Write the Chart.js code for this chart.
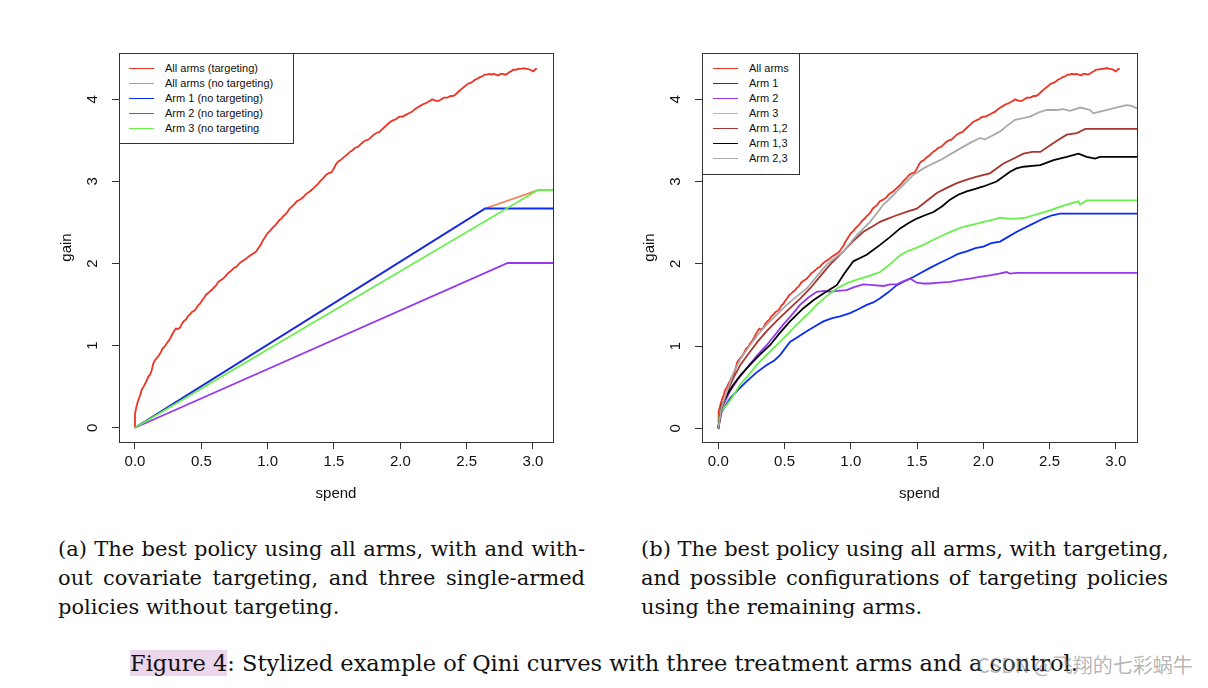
<!DOCTYPE html>
<html>
<head>
<meta charset="utf-8">
<script src="https://cdn.jsdelivr.net/npm/chart.js@4/dist/chart.umd.min.js"></script>
<style>
  body { margin: 0; background: #fff; }
  #page { position: relative; width: 1208px; height: 688px; overflow: hidden; background: #fff; }
  .box { position: absolute; }
  .legend { position: absolute; border: 1px solid #333; background: #fff; font-family: "Liberation Sans", Arial, sans-serif; font-size: 11px; color: #111; box-sizing: border-box; }
  .legend .row { position: absolute; height: 15px; line-height: 15px; white-space: nowrap; }
  .legend .sw { position: absolute; height: 0; border-top: 1.6px solid; top: 7px; }
  .cap { position: absolute; font-family: "DejaVu Serif", serif; font-size: 21px; color: #111; }
  .cap div { height: 29px; line-height: 29px; text-align: justify; text-align-last: justify; white-space: nowrap; }
  .cap div.last { text-align-last: left; }
  #figcap { position: absolute; left: 0; width: 1208px; top: 648px; text-align: center; font-family: "DejaVu Serif", serif; font-size: 22.5px; color: #111; line-height: 30px; }
  #figcap span { background: #ecd6ec; }
  #mark { position: absolute; left: 977px; top: 650px; font-family: "Noto Sans CJK SC", sans-serif; font-size: 20px; color: rgba(120,120,120,0.55); }
</style>
</head>
<body>
<div id="page">
  <div class="box" style="left:40px; top:29px; width:520px; height:491px;"><canvas id="chartA"></canvas></div>
  <div class="box" style="left:623px; top:29px; width:521px; height:491px;"><canvas id="chartB"></canvas></div>
  <div id="legendA" class="legend" style="left:119px; top:53px; width:175px; height:91px;"></div>
  <div id="legendB" class="legend" style="left:702px; top:53px; width:98px; height:122px;"></div>

  <div class="cap" style="left:58px; top:535px; width:527px;">
    <div>(a) The best policy using all arms, with and with-</div>
    <div>out covariate targeting, and three single-armed</div>
    <div class="last">policies without targeting.</div>
  </div>
  <div class="cap" style="left:641px; top:535px; width:527px;">
    <div>(b) The best policy using all arms, with targeting,</div>
    <div>and possible configurations of targeting policies</div>
    <div class="last">using the remaining arms.</div>
  </div>
  <div id="figcap"><span>Figure 4</span>: Stylized example of Qini curves with three treatment arms and a control.</div>
  <div id="mark">CSDN @飞翔的七彩蜗牛</div>
</div>

<script>
// axis ticks
const spendTicks = [0, 0.5, 1, 1.5, 2, 2.5, 3];
const gainTicks = [0, 1, 2, 3, 4];

// [spend, gain]
// best policy, all arms, with targeting (same curve in both panels)
const allArms = [
  [0, 0], [0, 0.17], [0.005, 0.21], [0.01, 0.25], [0.02, 0.31], [0.03, 0.36], [0.04, 0.40], [0.05, 0.46], [0.065, 0.50], [0.08, 0.55],
  [0.09, 0.58], [0.10, 0.62], [0.115, 0.65], [0.126, 0.70], [0.135, 0.76], [0.14, 0.79], [0.15, 0.82], [0.165, 0.85], [0.18, 0.88], [0.195, 0.92],
  [0.21, 0.97], [0.225, 0.99], [0.24, 1.03], [0.255, 1.06], [0.27, 1.10], [0.285, 1.15], [0.30, 1.19], [0.31, 1.21], [0.32, 1.20], [0.34, 1.22],
  [0.355, 1.27], [0.37, 1.30], [0.385, 1.32], [0.40, 1.36], [0.415, 1.38], [0.43, 1.41], [0.45, 1.43], [0.465, 1.46], [0.48, 1.50], [0.49, 1.51],
  [0.505, 1.55], [0.52, 1.58], [0.535, 1.62], [0.553, 1.64], [0.565, 1.66], [0.58, 1.68], [0.595, 1.71], [0.61, 1.73], [0.625, 1.77], [0.64, 1.79],
  [0.66, 1.81], [0.68, 1.84], [0.70, 1.88], [0.716, 1.90], [0.73, 1.92], [0.75, 1.95], [0.765, 1.96], [0.78, 1.99], [0.80, 2.02], [0.82, 2.04],
  [0.84, 2.06], [0.86, 2.09], [0.88, 2.11], [0.90, 2.13], [0.915, 2.15], [0.93, 2.19], [0.945, 2.22], [0.96, 2.27], [0.98, 2.32], [1.00, 2.37],
  [1.02, 2.40], [1.04, 2.44], [1.06, 2.47], [1.09, 2.53], [1.105, 2.55], [1.12, 2.58], [1.135, 2.60], [1.15, 2.63], [1.165, 2.67], [1.18, 2.69],
  [1.20, 2.72], [1.22, 2.76], [1.245, 2.78], [1.27, 2.81], [1.285, 2.84], [1.30, 2.86], [1.32, 2.88], [1.34, 2.91], [1.36, 2.94], [1.38, 2.97],
  [1.40, 3.01], [1.42, 3.04], [1.44, 3.08], [1.46, 3.10], [1.48, 3.11], [1.50, 3.16], [1.515, 3.21], [1.53, 3.24], [1.55, 3.26], [1.57, 3.29],
  [1.595, 3.32], [1.62, 3.36], [1.64, 3.38], [1.66, 3.41], [1.68, 3.42], [1.70, 3.45], [1.72, 3.48], [1.74, 3.50], [1.76, 3.51], [1.78, 3.54],
  [1.80, 3.57], [1.82, 3.59], [1.84, 3.60], [1.86, 3.63], [1.88, 3.66], [1.90, 3.69], [1.92, 3.72], [1.94, 3.74], [1.955, 3.75], [1.97, 3.76],
  [1.985, 3.78], [2.00, 3.79], [2.02, 3.79], [2.04, 3.81], [2.065, 3.83], [2.09, 3.85], [2.11, 3.88], [2.13, 3.90], [2.15, 3.92], [2.17, 3.94],
  [2.19, 3.95], [2.21, 3.97], [2.225, 3.98], [2.24, 4.00], [2.255, 3.99], [2.27, 3.98], [2.29, 3.98], [2.31, 4.00], [2.33, 4.02], [2.355, 4.02],
  [2.38, 4.04], [2.395, 4.04], [2.41, 4.05], [2.43, 4.08], [2.45, 4.11], [2.465, 4.13], [2.48, 4.15], [2.495, 4.17], [2.51, 4.19], [2.53, 4.20],
  [2.55, 4.22], [2.565, 4.24], [2.58, 4.25], [2.60, 4.27], [2.62, 4.28], [2.635, 4.30], [2.65, 4.30], [2.67, 4.31], [2.69, 4.30], [2.70, 4.31],
  [2.72, 4.30], [2.74, 4.29], [2.755, 4.31], [2.77, 4.31], [2.79, 4.30], [2.805, 4.31], [2.82, 4.33], [2.835, 4.34], [2.85, 4.36], [2.87, 4.36],
  [2.89, 4.37], [2.91, 4.37], [2.93, 4.38], [2.95, 4.37], [2.96, 4.37], [2.98, 4.36], [2.99, 4.35], [3.00, 4.34], [3.015, 4.36], [3.02, 4.37],
  [3.03, 4.37]
];

// panel (a): policies without targeting
const allArmsFlat = [[0, 0], [2.64, 2.67], [3.037, 2.895], [3.3, 2.895]];
const arm1Flat = [[0, 0], [2.64, 2.67], [3.3, 2.67]];
const arm2Flat = [[0, 0], [2.81, 2.006], [3.3, 2.006]];
const arm3Flat = [[0, 0], [3.037, 2.895], [3.3, 2.895]];

// panel (b): targeting with subsets of arms
const arm1 = [[0, 0], [0.025, 0.20], [0.088, 0.36], [0.15, 0.47], [0.214, 0.57], [0.29, 0.68], [0.365, 0.77], [0.42, 0.82], [0.466, 0.89], [0.541, 1.05],
  [0.60, 1.11], [0.667, 1.18], [0.73, 1.24], [0.793, 1.30], [0.86, 1.34], [0.919, 1.36], [0.994, 1.40], [1.06, 1.45], [1.12, 1.50], [1.17, 1.53],
  [1.221, 1.58], [1.28, 1.65], [1.347, 1.74], [1.41, 1.79], [1.472, 1.84], [1.53, 1.89], [1.598, 1.95], [1.67, 2.01], [1.749, 2.07], [1.81, 2.12],
  [1.875, 2.15], [1.94, 2.19], [2.00, 2.21], [2.06, 2.25], [2.127, 2.27], [2.19, 2.33], [2.253, 2.39], [2.353, 2.47], [2.454, 2.55], [2.52, 2.59],
  [2.58, 2.61], [3.3, 2.61]];
const arm2 = [[0, 0], [0.025, 0.24], [0.088, 0.45], [0.15, 0.60], [0.214, 0.73], [0.29, 0.88], [0.365, 1.01], [0.43, 1.14], [0.49, 1.26], [0.55, 1.37],
  [0.617, 1.50], [0.68, 1.59], [0.743, 1.66], [0.80, 1.67], [0.843, 1.66], [0.90, 1.67], [0.969, 1.68], [1.03, 1.72], [1.095, 1.75], [1.17, 1.74],
  [1.246, 1.73], [1.30, 1.75], [1.347, 1.75], [1.40, 1.79], [1.447, 1.82], [1.498, 1.77], [1.55, 1.76], [1.598, 1.76], [1.67, 1.77], [1.749, 1.78],
  [1.82, 1.80], [1.90, 1.82], [1.97, 1.84], [2.05, 1.86], [2.12, 1.88], [2.177, 1.90], [2.20, 1.88], [2.253, 1.89], [3.3, 1.89]];
const arm3 = [[0, 0], [0.013, 0.20], [0.063, 0.28], [0.11, 0.39], [0.164, 0.53], [0.23, 0.65], [0.29, 0.77], [0.37, 0.90], [0.44, 1.01], [0.52, 1.14],
  [0.592, 1.26], [0.67, 1.38], [0.743, 1.50], [0.82, 1.61], [0.894, 1.70], [0.98, 1.77], [1.07, 1.82], [1.15, 1.86], [1.221, 1.90], [1.27, 1.96],
  [1.321, 2.03], [1.37, 2.10], [1.422, 2.15], [1.49, 2.19], [1.548, 2.23], [1.62, 2.29], [1.699, 2.35], [1.77, 2.40], [1.85, 2.45], [1.93, 2.48],
  [2.00, 2.51], [2.06, 2.53], [2.127, 2.56], [2.19, 2.55], [2.253, 2.55], [2.32, 2.56], [2.38, 2.59], [2.44, 2.62], [2.505, 2.65], [2.57, 2.69],
  [2.63, 2.72], [2.718, 2.76], [2.73, 2.72], [2.78, 2.77], [3.3, 2.77]];
const arm12 = [[0, 0], [0.025, 0.24], [0.07, 0.45], [0.113, 0.61], [0.17, 0.78], [0.239, 0.93], [0.30, 1.06], [0.365, 1.18], [0.45, 1.32], [0.541, 1.46],
  [0.62, 1.58], [0.692, 1.70], [0.77, 1.85], [0.843, 1.99], [0.944, 2.15], [1.02, 2.28], [1.095, 2.39], [1.16, 2.45], [1.221, 2.51], [1.28, 2.55],
  [1.347, 2.59], [1.42, 2.63], [1.498, 2.67], [1.57, 2.76], [1.649, 2.86], [1.72, 2.92], [1.80, 2.98], [1.87, 3.02], [1.951, 3.06], [2.05, 3.10],
  [2.152, 3.22], [2.23, 3.28], [2.303, 3.34], [2.37, 3.36], [2.43, 3.36], [2.505, 3.44], [2.57, 3.51], [2.63, 3.57], [2.706, 3.59], [2.77, 3.64],
  [3.3, 3.64]];
const arm13 = [[0, 0], [0.025, 0.28], [0.07, 0.42], [0.113, 0.53], [0.17, 0.65], [0.239, 0.77], [0.31, 0.89], [0.39, 1.01], [0.46, 1.15], [0.541, 1.30],
  [0.642, 1.46], [0.72, 1.56], [0.793, 1.64], [0.894, 1.74], [0.95, 1.88], [1.019, 2.03], [1.07, 2.07], [1.12, 2.11], [1.221, 2.23], [1.30, 2.33],
  [1.372, 2.43], [1.44, 2.50], [1.498, 2.55], [1.56, 2.59], [1.624, 2.63], [1.69, 2.70], [1.749, 2.78], [1.81, 2.84], [1.875, 2.88], [1.94, 2.91],
  [2.00, 2.94], [2.10, 3.00], [2.202, 3.12], [2.25, 3.16], [2.303, 3.18], [2.37, 3.19], [2.43, 3.20], [2.53, 3.26], [2.63, 3.30], [2.718, 3.34],
  [2.78, 3.30], [2.844, 3.28], [2.88, 3.30], [3.3, 3.30]];
const arm23 = [[0, 0], [0.025, 0.26], [0.07, 0.47], [0.113, 0.67], [0.17, 0.85], [0.239, 1.01], [0.30, 1.14], [0.365, 1.26], [0.44, 1.38], [0.516, 1.50],
  [0.59, 1.60], [0.667, 1.70], [0.74, 1.84], [0.818, 1.99], [0.88, 2.07], [0.944, 2.15], [1.045, 2.35], [1.145, 2.51], [1.20, 2.62], [1.246, 2.72],
  [1.30, 2.80], [1.347, 2.88], [1.41, 2.98], [1.472, 3.08], [1.548, 3.16], [1.61, 3.21], [1.674, 3.26], [1.75, 3.33], [1.825, 3.40], [1.90, 3.47],
  [1.976, 3.53], [2.01, 3.51], [2.07, 3.56], [2.127, 3.61], [2.18, 3.68], [2.24, 3.75], [2.30, 3.77], [2.353, 3.79], [2.42, 3.84], [2.479, 3.87],
  [2.555, 3.87], [2.60, 3.88], [2.655, 3.86], [2.731, 3.90], [2.806, 3.87], [2.83, 3.83], [2.88, 3.85], [2.96, 3.88], [3.03, 3.91], [3.08, 3.93],
  [3.12, 3.92], [3.16, 3.89]];

const seriesA = [
  { label: "All arms (targeting)", pts: allArms, color: "#ec3324" },
  { label: "All arms (no targeting)", pts: allArmsFlat, color: "#f0845a" },
  { label: "Arm 1 (no targeting)", pts: arm1Flat, color: "#0b2cf2" },
  { label: "Arm 2 (no targeting)", pts: arm2Flat, color: "#9538ee" },
  { label: "Arm 3 (no targeting", pts: arm3Flat, color: "#67ef4a" }
];
const seriesB = [
  { label: "All arms", pts: allArms, color: "#ec3324" },
  { label: "Arm 1", pts: arm1, color: "#0b2cf2" },
  { label: "Arm 2", pts: arm2, color: "#9538ee" },
  { label: "Arm 3", pts: arm3, color: "#67ef4a" },
  { label: "Arm 1,2", pts: arm12, color: "#a8352f" },
  { label: "Arm 1,3", pts: arm13, color: "#000000" },
  { label: "Arm 2,3", pts: arm23, color: "#a9a9a9" }
];

const sans = "'Liberation Sans', Arial, Helvetica, sans-serif";

// R style box round the plot region
const frame = {
    id: "frame",
    afterDatasetsDraw(chart) {
        const a = chart.chartArea, c = chart.ctx;
        c.save();
        c.strokeStyle = "#333";
        c.lineWidth = 1;
        c.strokeRect(Math.round(a.left) + 0.5, Math.round(a.top) + 0.5, Math.round(a.right - a.left), Math.round(a.bottom - a.top));
        c.restore();
    }
};

function buildLegend(id, series, lineLeft, lineRight, textLeft) {
    const el = document.getElementById(id);
    series.forEach(function (s, i) {
        const row = document.createElement("div");
        row.className = "row";
        row.style.top = (7 + i * 15) + "px";
        row.style.left = "0px";
        row.style.width = "100%";
        const sw = document.createElement("span");
        sw.className = "sw";
        sw.style.left = lineLeft + "px";
        sw.style.width = (lineRight - lineLeft) + "px";
        sw.style.borderColor = s.color;
        const tx = document.createElement("span");
        tx.style.position = "absolute";
        tx.style.left = textLeft + "px";
        tx.textContent = s.label;
        row.appendChild(sw);
        row.appendChild(tx);
        el.appendChild(row);
    });
}

function makeChart(id, series, xMin, xMax, yMin, yMax) {
    const n = series.length;
    new Chart(document.getElementById(id).getContext("2d"), {
        type: "line",
        data: {
            datasets: series.map(function (s, i) {
                return {
                    label: s.label,
                    data: s.pts.map(function (p) { return { x: p[0], y: p[1] }; }),
                    borderColor: s.color,
                    backgroundColor: s.color,
                    borderWidth: 1.8,
                    pointRadius: 0,
                    tension: 0,
                    fill: false,
                    order: n - i
                };
            })
        },
        options: {
            responsive: true,
            maintainAspectRatio: false,
            animation: false,
            layout: { padding: { left: 0, right: 7, top: 10, bottom: 0 } },
            plugins: { legend: { display: false }, tooltip: { enabled: false } },
            scales: {
                x: {
                    type: "linear",
                    min: xMin,
                    max: xMax,
                    afterBuildTicks: function (s) { s.ticks = spendTicks.map(function (v) { return { value: v }; }); },
                    afterFit: function (s) { s.height = 78; },
                    border: { display: false },
                    grid: { drawOnChartArea: false, drawTicks: true, tickLength: 7, color: "#333" },
                    ticks: { color: "#111", font: { family: sans, size: 15 }, padding: 4, maxRotation: 0,
                             callback: function (v) { return Number(v).toFixed(1); } },
                    title: { display: true, text: "spend", color: "#111", font: { family: sans, size: 15 }, padding: { top: 0, bottom: 17 } }
                },
                y: {
                    type: "linear",
                    min: yMin,
                    max: yMax,
                    afterBuildTicks: function (s) { s.ticks = gainTicks.map(function (v) { return { value: v }; }); },
                    afterFit: function (s) { s.width = 79; },
                    border: { display: false },
                    grid: { drawOnChartArea: false, drawTicks: true, tickLength: 7, color: "#333" },
                    ticks: { color: "#111", font: { family: sans, size: 15 }, padding: 15, minRotation: 90, maxRotation: 90,
                             crossAlign: "center", callback: function (v) { return String(v); } },
                    title: { display: true, text: "gain", color: "#111", font: { family: sans, size: 15 }, padding: { top: 18, bottom: 0 } }
                }
            }
        },
        plugins: [frame]
    });
}

document.addEventListener("DOMContentLoaded", function () {
    makeChart("chartA", seriesA, -0.1206, 3.151, -0.174, 4.564);
    makeChart("chartB", seriesB, -0.123, 3.160, -0.167, 4.563);
    buildLegend("legendA", seriesA, 9, 34, 45);
    buildLegend("legendB", seriesB, 10, 35, 46);
});
</script>
</body>
</html>
